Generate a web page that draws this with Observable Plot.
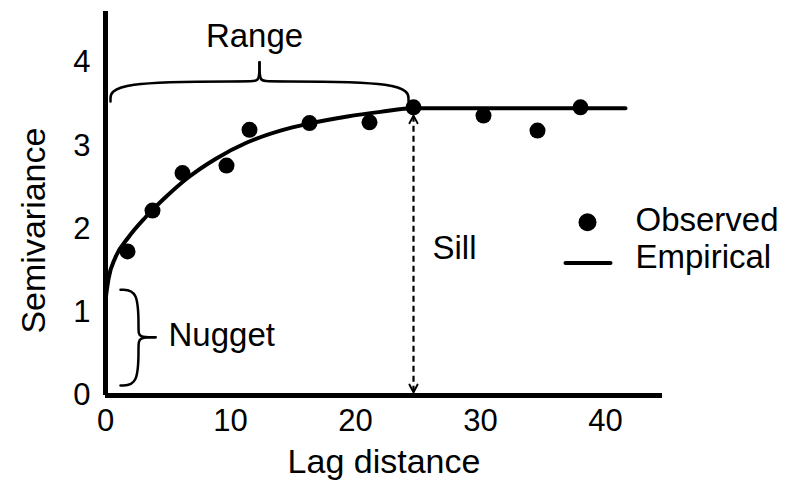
<!DOCTYPE html>
<html>
<head>
<meta charset="utf-8">
<script src="https://cdn.jsdelivr.net/npm/d3@7"></script>
<script src="https://cdn.jsdelivr.net/npm/@observablehq/plot@0.6"></script>
<style>
  html, body { margin: 0; padding: 0; background: #fff; }
  #chart { width: 792px; height: 482px; }
</style>
</head>
<body>
<div id="chart"></div>
<script>
// Observed semivariance points
const lag = [1.76, 3.76, 6.16, 9.68, 11.52, 16.32, 21.12, 24.64, 30.24, 34.56, 38.0];
const semivar = [1.73, 2.22, 2.67, 2.76, 3.19, 3.27, 3.28, 3.46, 3.36, 3.18, 3.46];

// Fitted (empirical) model curve
const fitLag = [0, 0.24, 0.8, 1.84, 3.2, 4.8, 6.64, 8.8, 11.36, 14.0, 16.32, 19.36, 22.0, 24.64, 41.6];
const fitGamma = [1.15, 1.4, 1.66, 1.9, 2.14, 2.38, 2.62, 2.84, 3.04, 3.18, 3.265, 3.35, 3.405, 3.45, 3.45];

// Ticks
const xTicks = [0, 10, 20, 30, 40];
const yTicks = [0, 1, 2, 3, 4];

// Annotations
const sillX = 24.64;
const sillBottom = 0.04;
const sillTop = 3.36;
const headHalfWidth = 0.32;
const headHeight = 0.09;
const rangeBraceLeftX = [0.4, 0.4, 11.76, 12.32, 12.32];
const rangeBraceLeftY = [3.53, 3.77, 3.77, 3.77, 4.0];
const rangeBraceRightX = [12.32, 12.32, 12.88, 24.24, 24.24];
const rangeBraceRightY = [4.0, 3.77, 3.77, 3.77, 3.53];
const nuggetBraceTopX = [1.2, 2.64, 2.64, 2.64, 4.0];
const nuggetBraceTopY = [1.27, 1.27, 0.78, 0.70, 0.70];
const nuggetBraceBotX = [4.0, 2.64, 2.64, 2.64, 1.2];
const nuggetBraceBotY = [0.70, 0.70, 0.60, 0.12, 0.12];

const rangeLabel = {t: "Range", x: 11.92, y: 4.31};
const sideLabels = ["Nugget", "Sill"];
const sideLabelX = [5.04, 26.16];
const sideLabelY = [0.72, 1.77];

const xTitle = "Lag distance";
const yTitle = "Semivariance";
const yTitlePos = {x: -5.7, y: 1.98};

const legendNames = ["Observed", "Empirical"];
const legendTextX = 42.4;
const legendTextY = [2.10, 1.66];
const legendDot = {x: 38.56, y: 2.08};
const legendLineX = [36.8, 40.4];
const legendLineY = 1.59;

const pts = lag.map((x, i) => ({x, y: semivar[i]}));
const fit = fitLag.map((x, i) => ({x, y: fitGamma[i]}));
const toPts = (xs, ys) => xs.map((x, i) => ({x, y: ys[i]}));
const side = sideLabels.map((t, i) => ({t, x: sideLabelX[i], y: sideLabelY[i]}));
const topHead = toPts([sillX - headHalfWidth, sillX, sillX + headHalfWidth], [sillTop - headHeight, sillTop, sillTop - headHeight]);
const botHead = toPts([sillX - headHalfWidth, sillX, sillX + headHalfWidth], [sillBottom + headHeight, sillBottom, sillBottom + headHeight]);

const font = "'Liberation Sans', Arial, Helvetica, sans-serif";
const line = (data, w, extra = {}) => Plot.line(data, {x: "x", y: "y", stroke: "#000", strokeWidth: w, ...extra});

const chart = Plot.plot({
  width: 792,
  height: 482,
  marginLeft: 105,
  marginRight: 130,
  marginTop: 11,
  marginBottom: 87,
  x: {domain: [0, 44.56]},
  y: {domain: [0, 4.61]},
  style: {fontFamily: font, fontSize: "31px", background: "#fff", color: "#000", overflow: "visible"},
  marks: [
    Plot.axisX({ticks: xTicks, tickSize: 0, tickPadding: 13, tickFormat: "d", label: null, fontSize: 31}),
    Plot.axisY({ticks: yTicks, tickSize: 0, tickPadding: 15, tickFormat: "d", label: null, fontSize: 31}),
    // braces
    line(toPts(rangeBraceLeftX, rangeBraceLeftY), 2.5, {curve: "basis"}),
    line(toPts(rangeBraceRightX, rangeBraceRightY), 2.5, {curve: "basis"}),
    line(toPts(nuggetBraceTopX, nuggetBraceTopY), 2.5, {curve: "basis"}),
    line(toPts(nuggetBraceBotX, nuggetBraceBotY), 2.5, {curve: "basis"}),
    // sill double arrow
    Plot.ruleX([sillX], {y1: sillBottom, y2: sillTop, stroke: "#000", strokeWidth: 2.2, strokeDasharray: "6,4"}),
    line(topHead, 2),
    line(botHead, 2),
    // model curve
    line(fit, 4, {curve: "monotone-x"}),
    // observed points
    Plot.dot(pts, {x: "x", y: "y", r: 8, fill: "#000"}),
    // axes lines
    Plot.ruleX([0], {stroke: "#000", strokeWidth: 5}),
    Plot.ruleY([0], {stroke: "#000", strokeWidth: 5}),
    // annotation labels
    Plot.text([rangeLabel], {x: "x", y: "y", text: "t", textAnchor: "middle", fontSize: 33, fill: "#000"}),
    Plot.text(side, {x: "x", y: "y", text: "t", textAnchor: "start", fontSize: 33, fill: "#000"}),
    // axis titles
    Plot.text([xTitle], {frameAnchor: "bottom", text: d => d, dy: 77, fontSize: 34, fill: "#000"}),
    Plot.text([yTitlePos], {x: "x", y: "y", text: () => yTitle, rotate: -90, fontSize: 34, fill: "#000"}),
    // legend
    Plot.dot([legendDot], {x: "x", y: "y", r: 9, fill: "#000"}),
    line(legendLineX.map(x => ({x, y: legendLineY})), 4),
    Plot.text(legendNames.map((t, i) => ({t, y: legendTextY[i]})), {x: () => legendTextX, y: "y", text: "t", textAnchor: "start", fontSize: 33, fill: "#000"})
  ]
});
document.getElementById("chart").appendChild(chart);
</script>
</body>
</html>
